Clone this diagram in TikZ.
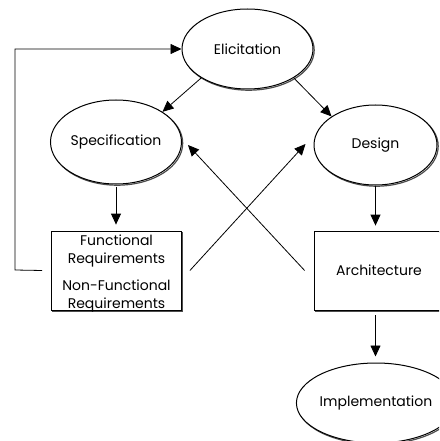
\documentclass[tikz,border=0pt]{standalone}
\usepackage{fontspec}
\setmainfont{Poppins}
\usetikzlibrary{shapes.geometric, arrows.meta}
\tikzset{
  shadowed/.style={
    preaction={draw=black!70, line width=1.2pt, transform canvas={xshift=1.2pt, yshift=-1.2pt}}
  },
  phase/.style={
    ellipse, draw=black, fill=white, line width=1pt, shadowed,
    minimum width=131pt, minimum height=80pt, inner sep=0pt,
    font=\fontsize{14}{17.5}\selectfont
  },
  artefact/.style={
    rectangle, draw=black, fill=white, line width=0.8pt, shadowed,
    minimum width=130pt, minimum height=79pt, inner sep=0pt,
    font=\fontsize{14}{17.5}\selectfont
  },
  flow/.style={-{Triangle[length=11pt,width=10pt]}, line width=0.8pt}
}

\begin{document}
\begin{tikzpicture}[x=1pt, y=-1pt]
  \clip (0,0) rectangle (439,441);
  % phases
  \node[phase] (elic) at (247.5,49) {Elicitation};
  \node[phase, minimum height=84pt] (spec) at (116,142) {Specification};
  \node[phase, minimum width=123pt] (design) at (375.5,145) {Design};
  \node[phase, minimum width=121pt] (impl) at (376,403) {Implementation};
  % artefacts
  \node[artefact] (req) at (116.5,270.5) {\begin{tabular}{@{}c@{}}Functional\\Requirements\\[10pt]Non-Functional\\Requirements\\[-6pt]\end{tabular}};
  \node[artefact] (arch) at (379,270.5) {Architecture};
  % arrows
  \draw[flow] (elic.212) -- (spec.33);
  \draw[flow] (elic.-32) -- (design.147);
  \draw[flow, shorten <=2pt, shorten >=6pt] (spec.south) -- (spec.south |- req.north);
  \draw[flow, shorten >=5pt] (design.south) -- (design.south |- arch.north);
  \draw[flow, shorten <=5pt, shorten >=6pt] (design.south |- arch.south) -- (design.south |- impl.north);
  \draw[flow] ([xshift=8pt]req.east) -- ([xshift=-8pt, yshift=1pt]design.west);
  \draw[flow] ([xshift=-9pt]arch.west) -- ([xshift=6pt, yshift=-3pt]spec.east);
  % feedback loop
  \coordinate (loop) at (15,270);
  \draw[flow] ([xshift=-9pt]req.west) -- (loop) |- (elic.west);
\end{tikzpicture}
\end{document}
